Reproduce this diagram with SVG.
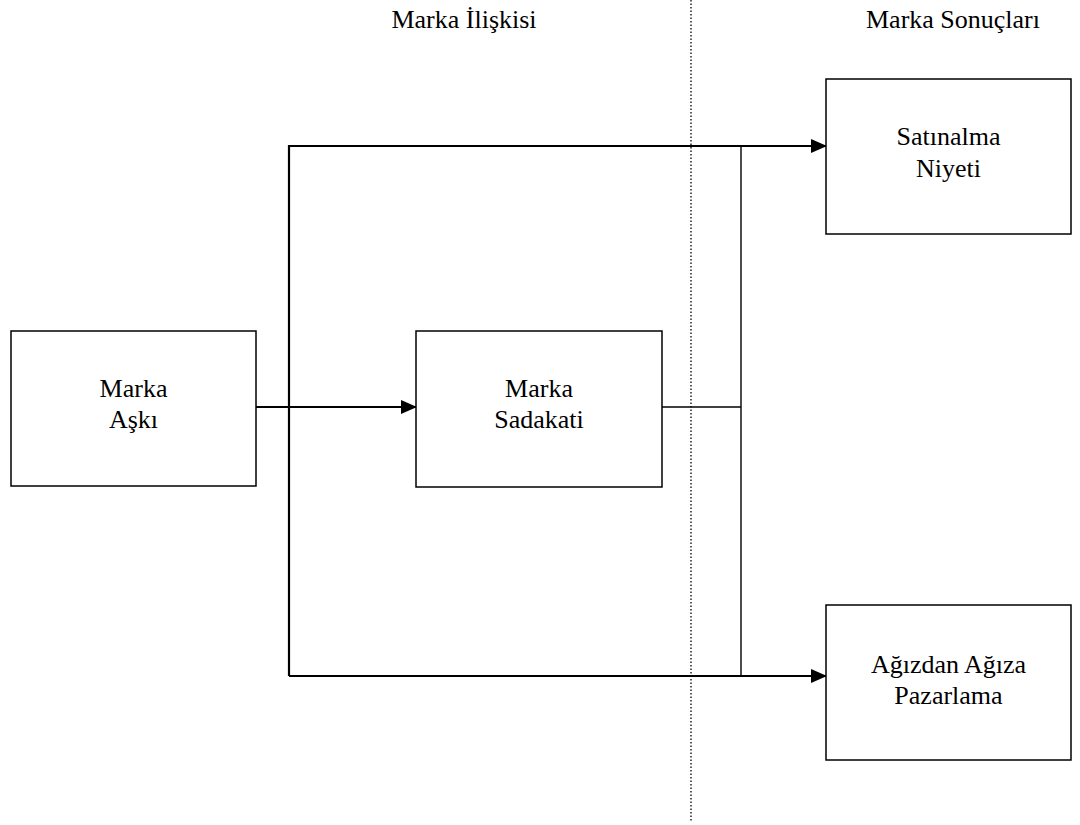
<svg xmlns="http://www.w3.org/2000/svg" width="1080" height="825" viewBox="0 0 1080 825">
  <style>
    .box { fill: #fff; stroke: #000; stroke-width: 1.5; }
    .lbl { font-family: "Liberation Serif", "Times New Roman", serif; font-size: 26px; fill: #000; text-anchor: middle; }
    .main { stroke: #000; stroke-width: 2.2; fill: none; }
    .thin { stroke: #000; stroke-width: 1.4; fill: none; }
    .div { stroke: #000; stroke-width: 1.3; stroke-dasharray: 1.5 2; fill: none; }
  </style>
  <defs>
    <marker id="arrow" markerWidth="16" markerHeight="16" refX="15" refY="8" orient="auto" markerUnits="userSpaceOnUse" viewBox="0 0 16 16">
      <path d="M0,1 L16,8 L0,15 Z" fill="#000"/>
    </marker>
  </defs>
  <rect width="1080" height="825" fill="#fff"/>

  <!-- section headings and divider -->
  <text class="lbl" x="464" y="28">Marka İlişkisi</text>
  <text class="lbl" x="953" y="28">Marka Sonuçları</text>
  <line class="div" x1="691" y1="0" x2="691" y2="822"/>

  <!-- connectors -->
  <g id="connectors">
    <path class="main" d="M256,407 H416" marker-end="url(#arrow)"/>
    <path class="main" d="M289,676 V146 H826" marker-end="url(#arrow)"/>
    <path class="main" d="M289,676 H826" marker-end="url(#arrow)"/>
    <path class="thin" d="M662,407 H741"/>
    <path class="thin" d="M741,146 V676"/>
  </g>

  <g id="marka-aski">
    <rect class="box" x="11" y="331" width="245" height="155"/>
    <text class="lbl" x="133.5" y="397">Marka</text>
    <text class="lbl" x="133.5" y="428">Aşkı</text>
  </g>

  <g id="marka-sadakati">
    <rect class="box" x="416" y="331" width="246" height="156"/>
    <text class="lbl" x="539" y="397">Marka</text>
    <text class="lbl" x="539" y="428">Sadakati</text>
  </g>

  <g id="satinalma-niyeti">
    <rect class="box" x="826" y="79" width="245" height="155"/>
    <text class="lbl" x="948.5" y="145">Satınalma</text>
    <text class="lbl" x="948.5" y="177">Niyeti</text>
  </g>

  <g id="agizdan-agiza">
    <rect class="box" x="826" y="605" width="245" height="155"/>
    <text class="lbl" x="948.5" y="673">Ağızdan Ağıza</text>
    <text class="lbl" x="948.5" y="704">Pazarlama</text>
  </g>
</svg>
